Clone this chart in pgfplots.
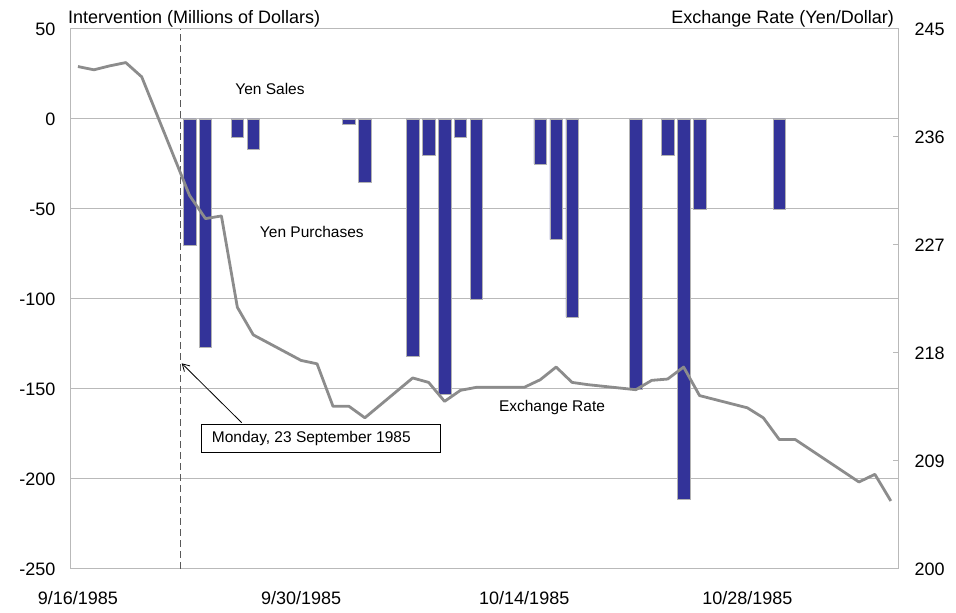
\documentclass[border=0pt]{standalone}
\usepackage{fontspec}
\setmainfont{Liberation Sans}
\usepackage{pgfplots}
\pgfplotsset{compat=1.18}
\usetikzlibrary{arrows.meta}
\definecolor{barblue}{RGB}{51,51,153}
\definecolor{linegray}{RGB}{140,140,140}
\definecolor{gridgray}{RGB}{185,185,185}
\begin{document}
\begin{tikzpicture}[x=1pt,y=1pt]
\path[use as bounding box] (0,0) rectangle (956,613);
\begin{axis}[
  at={(70pt,44pt)}, anchor=south west,
  scale only axis, width=828pt, height=540pt,
  xmin=-0.5, xmax=51.45,
  ymin=-250, ymax=50,
  ytick={-250,-200,-150,-100,-50,0,50},
  yticklabels={-250,-200,-150,-100,-50,0,50},
  xtick={0,14,28,42},
  xticklabels={9/16/1985,9/30/1985,10/14/1985,10/28/1985},
  ymajorgrids,
  grid style={gridgray, line width=1pt},
  axis line style={gridgray, line width=1pt},
  tick style={draw=none},
  major tick length=0pt,
  tick label style={font=\fontsize{18}{21}\selectfont},
  yticklabel style={xshift=-11pt},
  xticklabel style={yshift=-19pt},
]
\addplot[ybar, bar width=0.78, fill=barblue, draw=gray!60, line width=0.5pt] coordinates {
 (7,-70) (8,-127) (10,-10) (11,-17) (17,-3) (18,-35)
 (21,-132) (22,-20) (23,-153) (24,-10) (25,-100)
 (29,-25) (30,-67) (31,-110)
 (35,-150) (37,-20) (38,-211) (39,-50) (44,-50)};
\draw[dash pattern=on 7pt off 4pt, color=black!65, line width=1pt] (axis cs:6.43,-250) -- (axis cs:6.43,50);
\end{axis}
\begin{axis}[
  at={(70pt,44pt)}, anchor=south west,
  scale only axis, width=828pt, height=540pt,
  xmin=-0.5, xmax=51.45,
  ymin=200, ymax=245,
  axis x line=none, axis y line*=right,
  axis line style={gridgray, line width=1pt},
  ytick={200,209,218,227,236,245},
  yticklabels={200,209,218,227,236,245},
  ytick style={gridgray, line width=1pt},
  tick align=inside, major tick length=5pt,
  tick label style={font=\fontsize{18}{21}\selectfont},
  yticklabel style={xshift=13pt},
]
\addplot[linegray, line width=2.8pt, mark=none, line join=round] coordinates {
 (0,241.87) (1,241.60) (2,241.93) (3,242.20) (4,241.01)
 (7,231.13) (8,229.20) (9,229.42) (10,221.81) (11,219.51)
 (14,217.38) (15,217.10) (16,213.56) (17,213.56) (18,212.60)
 (21,215.92) (22,215.55) (23,213.97) (24,214.89) (25,215.14)
 (28,215.14) (29,215.77) (30,216.83) (31,215.55) (32,215.36)
 (35,214.94) (36,215.72) (37,215.83) (38,216.83) (39,214.45)
 (42,213.43) (43,212.60) (44,210.79) (45,210.79)
 (49,207.25) (50,207.89) (51,205.67)};
\end{axis}
\node[anchor=base west, font=\fontsize{18}{21}\selectfont, inner sep=0pt] at (68,589) {Intervention (Millions of Dollars)};
\node[anchor=base east, font=\fontsize{18}{21}\selectfont, inner sep=0pt] at (894,589) {Exchange Rate (Yen/Dollar)};
\node[font=\fontsize{15.5}{18}\selectfont] at (270,524) {Yen Sales};
\node[font=\fontsize{15.5}{18}\selectfont] at (311.8,380.7) {Yen Purchases};
\node[font=\fontsize{15.5}{18}\selectfont] at (552,205.3) {Exchange Rate};
\draw[-{Straight Barb[length=7pt,width=8pt]}, line width=0.8pt] (241.7,190.3) -- (181.7,249.7);
\draw[line width=0.8pt, fill=white] (201.7,160.3) rectangle (440.7,189);
\node[anchor=west, font=\fontsize{15.5}{18}\selectfont, inner sep=0pt] at (211.7,174.6) {Monday, 23 September 1985};
\end{tikzpicture}
\end{document}
